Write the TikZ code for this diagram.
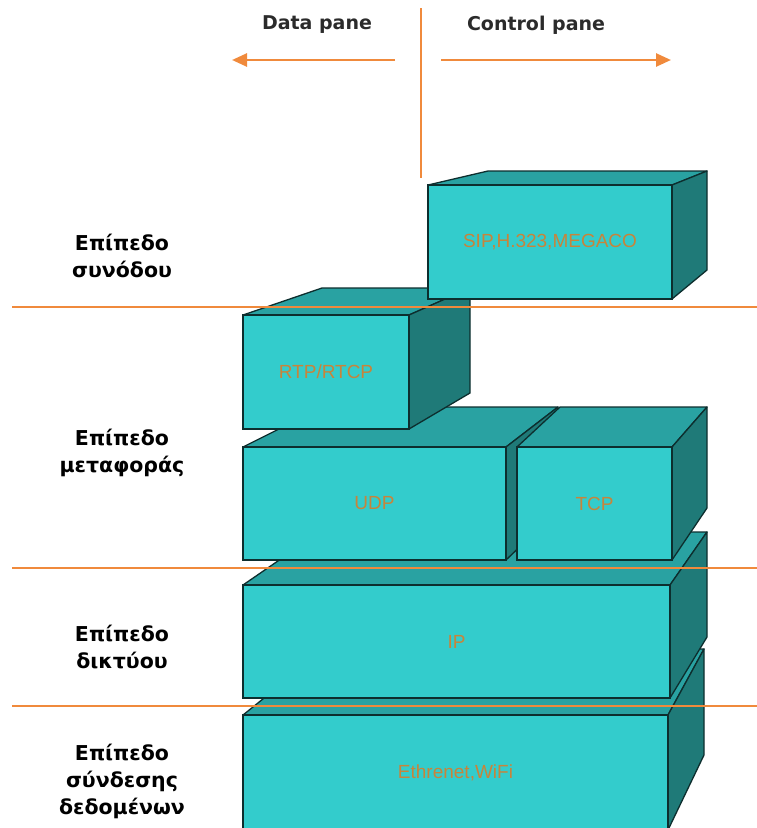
\documentclass[tikz,border=0pt]{standalone}
\usepackage{fontspec}
\setmainfont{Liberation Sans}
\newfontfamily\labelfont{DejaVu Sans}
\usetikzlibrary{arrows.meta,calc}

\definecolor{frontc}{HTML}{33CCCC}
\definecolor{topc}{HTML}{29A2A2}
\definecolor{sidec}{HTML}{1F7A78}
\definecolor{edgec}{HTML}{0D2E2E}
\definecolor{rulec}{HTML}{F08A3C}
\definecolor{protoc}{HTML}{C8843A}
\definecolor{headc}{HTML}{2B2B2B}

% A protocol block in oblique view:
% #1 name, #2/#3 front top-left, #4/#5 front bottom-right,
% #6 back-left x, #7 back-right x, #8 back top y, #9 back bottom y
\newcommand\layerbox[9]{%
  \filldraw[fill=topc,draw=edgec,line width=1.3pt,line join=round]
    (#2,#3) -- (#6,#8) -- (#7,#8) -- (#4,#3) -- cycle;
  \filldraw[fill=sidec,draw=edgec,line width=1.3pt,line join=round]
    (#4,#3) -- (#7,#8) -- (#7,#9) -- (#4,#5) -- cycle;
  \filldraw[fill=frontc,draw=edgec,line width=1.3pt]
    (#2,#3) rectangle (#4,#5);
  \coordinate (#1) at ($(#2,#3)!0.5!(#4,#5)$);
}

\tikzset{
  head/.style={font=\labelfont\bfseries\fontsize{19}{22}\selectfont,text=headc},
  layer/.style={font=\labelfont\bfseries\fontsize{20.5}{27}\selectfont,text=black,align=center},
  proto/.style={font=\fontsize{19}{22}\selectfont,text=protoc},
  rule/.style={draw=rulec,line width=2.6pt},
  panearrow/.style={rule,-{Triangle[length=15pt,width=13pt]}}
}

\begin{document}
\begin{tikzpicture}[x=1pt,y=-1pt]
  \useasboundingbox (0,0) rectangle (757,828);
  \clip (0,0) rectangle (757,828);

  % plane headings and divider
  \node[head] (data) at (317,25) {Data pane};
  \node[head] (control) at (536,25) {Control pane};
  \coordinate (divtop) at (421,8);
  \coordinate (divbot) at (421,178);
  \coordinate (dstart) at (395,60);
  \coordinate (dend) at (232,60);
  \coordinate (cstart) at (441,60);
  \coordinate (cend) at (671,60);
  \draw[rule] (divtop) -- (divbot);
  \draw[panearrow] (dstart) -- (dend);
  \draw[panearrow] (cstart) -- (cend);

  % protocol blocks, back to front
  \layerbox{eth}{243}{715}{668}{830}{325}{704}{649}{755}
  \layerbox{ip}{243}{585}{670}{698}{320}{707}{532}{637}
  \layerbox{udp}{243}{447}{506}{560}{323}{558}{407}{510}
  \layerbox{tcp}{517}{447}{672}{560}{560}{707}{407}{508}
  \layerbox{rtp}{243}{315}{409}{429}{322}{470}{288}{393}
  \layerbox{sip}{428}{185}{672}{299}{488}{707}{171}{270}

  \node[proto] (sip-t) at (sip) {SIP,H.323,MEGACO};
  \node[proto] (rtp-t) at (rtp) {RTP/RTCP};
  \node[proto] (udp-t) at (udp) {UDP};
  \node[proto] (tcp-t) at (tcp) {TCP};
  \node[proto] (ip-t) at (ip) {IP};
  \node[proto] (eth-t) at (eth) {Ethrenet,WiFi};

  % layer boundaries
  \coordinate (r1a) at (12,307);  \coordinate (r1b) at (757,307);
  \coordinate (r2a) at (12,568);  \coordinate (r2b) at (757,568);
  \coordinate (r3a) at (12,706);  \coordinate (r3b) at (757,706);
  \draw[rule] (r1a) -- (r1b);
  \draw[rule] (r2a) -- (r2b);
  \draw[rule] (r3a) -- (r3b);

  % layer names
  \node[layer] (session) at (122,256) {Επίπεδο\\συνόδου};
  \node[layer] (transport) at (122,453) {Επίπεδο\\μεταφοράς};
  \node[layer] (network) at (122,647) {Επίπεδο\\δικτύου};
  \node[layer] (link) at (122,781) {Επίπεδο\\σύνδεσης\\δεδομένων};
\end{tikzpicture}
\end{document}
